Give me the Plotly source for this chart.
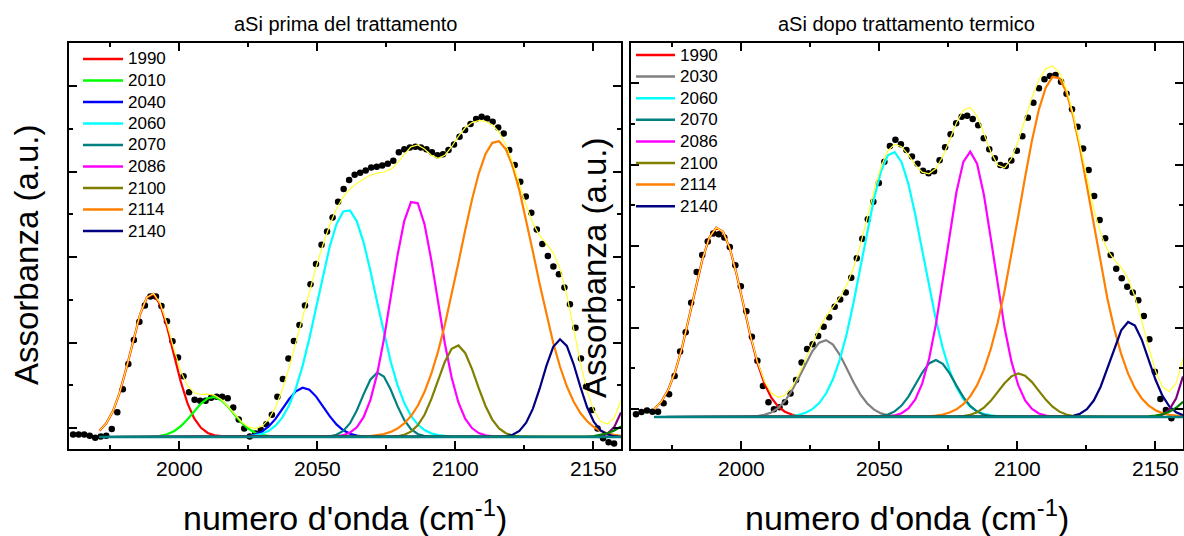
import numpy as np
import plotly.graph_objects as go

# ---------------- data: left panel (aSi prima del trattamento) ----------------
xL = [1961.5, 1963.5, 1965.5, 1967.5, 1969.5, 1971.5, 1973.5, 1975.5, 1977.5, 1979.5,
      1981.5, 1983.5, 1985.5, 1987.5, 1989.5, 1991.5, 1993.5, 1995.5, 1997.5, 1999.5,
      2001.5, 2003.5, 2005.5, 2007.5, 2009.5, 2011.5, 2013.5, 2015.5, 2017.5, 2019.5,
      2021.5, 2023.5, 2025.5, 2027.5, 2029.5, 2031.5, 2033.5, 2035.5, 2037.5, 2039.5,
      2041.5, 2043.5, 2045.5, 2047.5, 2049.5, 2051.5, 2053.5, 2055.5, 2057.5, 2059.5,
      2061.5, 2063.5, 2065.5, 2067.5, 2069.5, 2071.5, 2073.5, 2075.5, 2077.5, 2079.5,
      2081.5, 2083.5, 2085.5, 2087.5, 2089.5, 2091.5, 2093.5, 2095.5, 2097.5, 2099.5,
      2101.5, 2103.5, 2105.5, 2107.5, 2109.5, 2111.5, 2113.5, 2115.5, 2117.5, 2119.5,
      2121.5, 2123.5, 2125.5, 2127.5, 2129.5, 2131.5, 2133.5, 2135.5, 2137.5, 2139.5,
      2141.5, 2143.5, 2145.5, 2147.5, 2149.5, 2151.5, 2153.5, 2155.5, 2157.5]
yL = [0.06, 0.06, 0.06, 0.03, -0.02, 0.01, 0.03, 0.19, 0.58, 1.12,
      1.71, 2.27, 2.70, 3.08, 3.29, 3.29, 3.07, 2.71, 2.24, 1.86,
      1.42, 1.05, 0.87, 0.85, 0.85, 0.92, 0.94, 0.94, 0.91, 0.69,
      0.41, 0.20, 0.01, 0.08, 0.17, 0.30, 0.52, 0.94, 1.36, 1.84,
      2.25, 2.62, 3.08, 3.58, 4.05, 4.50, 4.81, 5.14, 5.51, 5.81,
      6.02, 6.14, 6.19, 6.24, 6.31, 6.33, 6.36, 6.40, 6.47, 6.67,
      6.74, 6.78, 6.80, 6.78, 6.74, 6.67, 6.60, 6.62, 6.72, 6.85,
      7.03, 7.19, 7.33, 7.45, 7.50, 7.46, 7.38, 7.25, 7.11, 6.72,
      6.37, 5.98, 5.63, 5.25, 4.86, 4.52, 4.24, 3.99, 3.81, 3.50,
      3.11, 2.56, 1.84, 1.19, 0.63, 0.20, -0.03, -0.12, -0.15]

L_names = ["1990", "2010", "2040", "2060", "2070", "2086", "2100", "2114", "2140"]
L_centers = [1990.0, 2012.2, 2045.0, 2060.8, 2072.0, 2085.0, 2100.6, 2115.0, 2138.0]
L_heights = [3.36, 0.94, 1.155, 5.33, 1.51, 5.55, 2.15, 6.94, 2.29]
L_sigmas = [7.6, 7.2, 7.2, 10.6, 5.8, 8.2, 7.0, 13.5, 6.3]
L_colors = ["#FF0000", "#00FF00", "#0000FF", "#00FFFF", "#008080",
            "#FF00FF", "#808000", "#FF8000", "#000080"]
L_edge_centers = [2170.0, 2175.0]
L_edge_heights = [3.0, 1.0]
L_edge_sigmas = [5.5, 9.0]
L_fit_range = [1971.0, 2160.0]

# ---------------- data: right panel (aSi dopo trattamento termico) ----------------
xR = [1961.8, 1963.8, 1965.8, 1967.8, 1969.8, 1971.8, 1973.8, 1975.8, 1977.8, 1979.8,
      1981.8, 1983.8, 1985.8, 1987.8, 1989.8, 1991.8, 1993.8, 1995.8, 1997.8, 1999.8,
      2001.8, 2003.8, 2005.8, 2007.8, 2009.8, 2011.8, 2013.8, 2015.8, 2017.8, 2019.8,
      2021.8, 2023.8, 2025.8, 2027.8, 2029.8, 2031.8, 2033.8, 2035.8, 2037.8, 2039.8,
      2041.8, 2043.8, 2045.8, 2047.8, 2049.8, 2051.8, 2053.8, 2055.8, 2057.8, 2059.8,
      2061.8, 2063.8, 2065.8, 2067.8, 2069.8, 2071.8, 2073.8, 2075.8, 2077.8, 2079.8,
      2081.8, 2083.8, 2085.8, 2087.8, 2089.8, 2091.8, 2093.8, 2095.8, 2097.8, 2099.8,
      2101.8, 2103.8, 2105.8, 2107.8, 2109.8, 2111.8, 2113.8, 2115.8, 2117.8, 2119.8,
      2121.8, 2123.8, 2125.8, 2127.8, 2129.8, 2131.8, 2133.8, 2135.8, 2137.8, 2139.8,
      2141.8, 2143.8, 2145.8, 2147.8, 2149.8, 2151.8, 2153.8, 2155.8]
yR = [0.07, 0.12, 0.16, 0.13, 0.13, 0.34, 0.56, 1.01, 1.61, 2.08,
      2.81, 3.56, 3.98, 4.31, 4.51, 4.49, 4.41, 4.18, 3.73, 3.21,
      2.60, 1.97, 1.38, 0.76, 0.36, 0.19, 0.24, 0.36, 0.58, 0.91,
      1.34, 1.67, 1.79, 1.99, 2.22, 2.45, 2.71, 2.89, 3.06, 3.42,
      3.90, 4.38, 4.86, 5.29, 5.75, 6.27, 6.66, 6.81, 6.70, 6.56,
      6.40, 6.22, 6.05, 5.99, 6.04, 6.31, 6.63, 6.95, 7.22, 7.38,
      7.40, 7.32, 7.17, 6.85, 6.58, 6.36, 6.19, 6.17, 6.30, 6.54,
      6.90, 7.35, 7.72, 8.08, 8.30, 8.38, 8.40, 8.24, 7.94, 7.56,
      7.13, 6.60, 6.07, 5.43, 4.84, 4.39, 3.98, 3.64, 3.41, 3.20,
      3.06, 2.87, 2.48, 1.91, 1.11, 0.44, 0.17, -0.03]

R_names = ["1990", "2030", "2060", "2070", "2086", "2100", "2114", "2140"]
R_centers = [1991.4, 2030.3, 2054.9, 2070.4, 2082.8, 2100.5, 2113.7, 2140.6]
R_heights = [4.66, 1.89, 6.52, 1.40, 6.52, 1.07, 8.38, 2.34]
R_sigmas = [9.1, 8.2, 11.0, 6.9, 8.5, 7.2, 13.0, 6.9]
R_colors = ["#FF0000", "#808080", "#00FFFF", "#008080", "#FF00FF",
            "#808000", "#FF8000", "#000080"]
R_edge_centers = [2170.0, 2175.0]
R_edge_heights = [4.0, 1.5]
R_edge_sigmas = [6.0, 9.0]
R_fit_range = [1968.5, 2160.0]

EDGE_COLORS = ["#800080", "#008000"]
TEAL = "#008080"
YELLOW = "#FFFF33"
W, H = 1184, 536
FONT = "Arial, Liberation Sans, sans-serif"


def gauss(x, c, h, s):
    return h * np.exp(-0.5 * ((x - c) / s) ** 2)


fig = go.Figure()
shapes = []
annos = []


def add_panel(xd, yd, names, cs, hs, ss, cols, ecs, ehs, ess, frange, xa, ya,
              leg_x0, leg_x1, leg_tx, leg_y0, leg_dy):
    xf = np.linspace(frange[0], frange[1], 78)
    fig.add_trace(go.Scatter(x=xd, y=yd, mode="markers", xaxis=xa, yaxis=ya,
                             marker=dict(color="black", size=6.5),
                             showlegend=False, hoverinfo="x+y"))
    total = np.zeros_like(xf)
    for i, (n, c, h, s, col) in enumerate(zip(names, cs, hs, ss, cols)):
        yy = gauss(xf, c, h, s)
        total += yy
        fig.add_trace(go.Scatter(x=xf, y=yy, mode="lines", name=n, xaxis=xa, yaxis=ya,
                                 line=dict(color=col, width=2.2), showlegend=False))
        # legend entry (line sample + label)
        yp = 1 - (leg_y0 + i * leg_dy) / H
        shapes.append(dict(type="line", xref="paper", yref="paper",
                           x0=leg_x0 / W, x1=leg_x1 / W, y0=yp, y1=yp,
                           line=dict(color=col, width=2.5)))
        annos.append(dict(x=leg_tx / W, y=yp, text=n, xanchor="left", yanchor="middle",
                          font=dict(size=17, color="black", family=FONT)))
    for c, h, s, col in zip(ecs, ehs, ess, EDGE_COLORS):
        yy = gauss(xf, c, h, s)
        total += yy
        fig.add_trace(go.Scatter(x=xf, y=yy, mode="lines", xaxis=xa, yaxis=ya,
                                 line=dict(color=col, width=2.2), showlegend=False))
    fig.add_trace(go.Scatter(x=[frange[0], frange[1]], y=[0, 0], mode="lines",
                             xaxis=xa, yaxis=ya, line=dict(color=TEAL, width=2.5),
                             showlegend=False, hoverinfo="skip"))
    fig.add_trace(go.Scatter(x=xf, y=total, mode="lines", xaxis=xa, yaxis=ya,
                             line=dict(color=YELLOW, width=1.2), showlegend=False))


add_panel(xL, yL, L_names, L_centers, L_heights, L_sigmas, L_colors,
          L_edge_centers, L_edge_heights, L_edge_sigmas, L_fit_range, "x", "y",
          83, 123, 126, 59, 21.5)
add_panel(xR, yR, R_names, R_centers, R_heights, R_sigmas, R_colors,
          R_edge_centers, R_edge_heights, R_edge_sigmas, R_fit_range, "x2", "y2",
          636, 675, 678, 55, 21.6)

ydom = [(H - 449) / H, (H - 43) / H]


def xaxis_cfg(dom, anchor):
    return dict(domain=dom, anchor=anchor, range=[1960, 2160], showline=True,
                linecolor="black", linewidth=2, mirror="ticks", ticks="inside",
                ticklen=8, tickwidth=1.5, tickcolor="black", tick0=2000, dtick=50,
                minor=dict(ticks="inside", ticklen=4, tickwidth=1.5, tickcolor="black",
                           tick0=1975, dtick=25),
                showgrid=False, zeroline=False,
                tickfont=dict(size=21, color="black", family=FONT))


def yaxis_cfg(rng, t0, anchor):
    return dict(domain=ydom, anchor=anchor, range=rng, showline=True,
                linecolor="black", linewidth=2, mirror="ticks", ticks="inside",
                ticklen=8, tickwidth=1.5, tickcolor="black", tick0=t0, dtick=2,
                minor=dict(ticks="inside", ticklen=4, tickwidth=1.5, tickcolor="black",
                           tick0=t0, dtick=1),
                showticklabels=False, showgrid=False, zeroline=False)


fig.update_layout(
    width=W, height=H, margin=dict(l=0, r=0, t=0, b=0),
    paper_bgcolor="white", plot_bgcolor="white",
    font=dict(family=FONT, color="black"),
    xaxis=xaxis_cfg([69 / W, 621 / W], "y"),
    yaxis=yaxis_cfg([-0.281, 9.227], 0.211, "x"),
    xaxis2=xaxis_cfg([631 / W, 1183 / W], "y2"),
    yaxis2=yaxis_cfg([-0.786, 9.189], 0.197, "x2"),
    showlegend=False,
)

title_font = dict(size=20, color="black", family=FONT)
ytitle_font = dict(size=33, color="black", family=FONT)
xtitle_font = dict(size=34, color="black", family=FONT)
xt = "numero d'onda (cm<sup>-1</sup>)"
yt = "Assorbanza (a.u.)"
main_annos = [
    dict(x=345 / W, y=1 - 24 / H, text="aSi prima del trattamento", font=title_font),
    dict(x=906 / W, y=1 - 24 / H, text="aSi dopo trattamento termico", font=title_font),
    dict(x=345 / W, y=1 - 515 / H, text=xt, font=xtitle_font),
    dict(x=907 / W, y=1 - 515 / H, text=xt, font=xtitle_font),
    dict(x=26 / W, y=1 - 255 / H, text=yt, font=ytitle_font, textangle=-90),
    dict(x=594 / W, y=1 - 268 / H, text=yt, font=ytitle_font, textangle=-90),
]
for a in main_annos:
    a.update(xanchor="center", yanchor="middle")
for a in main_annos + annos:
    a.update(xref="paper", yref="paper", showarrow=False)
fig.update_layout(annotations=main_annos + annos, shapes=shapes)

fig.write_html("out.html", config={"displayModeBar": False},
               post_script="document.body.style.margin='0';document.body.style.overflow='hidden';")
